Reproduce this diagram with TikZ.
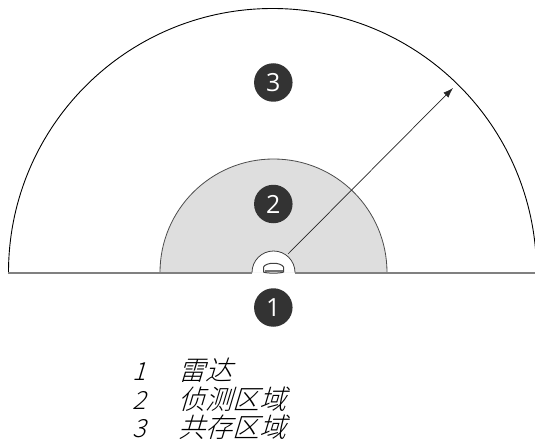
\documentclass[tikz,border=0pt]{standalone}
\usepackage{fontspec}
\usetikzlibrary{arrows.meta}
\newfontfamily\cjk[FakeSlant=0.3,UprightFont=* Light]{Noto Sans CJK SC}
\newfontfamily\callfont{Open Sans}
\tikzset{
  callout/.style={circle,fill=black!80,text=white,minimum size=38.5pt,inner sep=0pt,font=\fontsize{25}{25}\selectfont\callfont},
  numlab/.style={anchor=base,font=\fontsize{25}{25}\selectfont\cjk,inner sep=0pt},
  cjklab/.style={anchor=base west,font=\fontsize{27}{27}\selectfont\cjk,inner sep=0pt},
}
\begin{document}
\begin{tikzpicture}[x=1pt,y=-1pt,line width=0.8pt]
\useasboundingbox (0,0) rectangle (535,441);
\fill[fill=white] (0,0) rectangle (535,441);
\clip (0,0) rectangle (535,441);
\fill[black!13] (160,272.5) arc[start angle=180,end angle=0,x radius=113.5,y radius=-113.5] -- cycle;
\fill[white] (252,272.5) arc[start angle=180,end angle=0,x radius=21.5,y radius=-21.5] -- cycle;
\draw[black!70] (160,272.5) arc[start angle=180,end angle=0,x radius=113.5,y radius=-113.5];
\draw[black!75] (252,272.5) arc[start angle=180,end angle=0,x radius=21.5,y radius=-21.5];
\draw[black,line width=0.9pt] (8.5,272.5) arc[start angle=180,end angle=0,x radius=264,y radius=-264];
\draw[black!50,line width=2pt] (8,272.5) -- (252,272.5);
\draw[black!50,line width=2pt] (295,272.5) -- (535,272.5);
\draw[black!85,line width=0.7pt,-{Latex[length=10pt,width=7pt]}] (288,254) -- (453,88);
\draw[black!75,fill=white,line width=1pt] (263.5,272) -- (263.5,267) .. controls (266,262) and (281,262) .. (283.5,267) -- (283.5,272) .. controls (281,273.5) and (266,273.5) .. (263.5,272) -- cycle;
\draw[black!55,line width=2pt] (264.5,270.5) -- (282.5,270.5);
\node[callout] (n3) at (273.3,82.5) {3};
\node[callout] (n2) at (273.3,204) {2};
\node[callout] (n1) at (273.3,307.5) {1};
\node[numlab] (l1) at (139,380) {1};
\node[numlab] (l2) at (139,409) {2};
\node[numlab] (l3) at (139,437.5) {3};
\node[cjklab] (t1) at (178,380) {雷达};
\node[cjklab] (t2) at (178,409) {侦测区域};
\node[cjklab] (t3) at (178,437.5) {共存区域};
\end{tikzpicture}
\end{document}
